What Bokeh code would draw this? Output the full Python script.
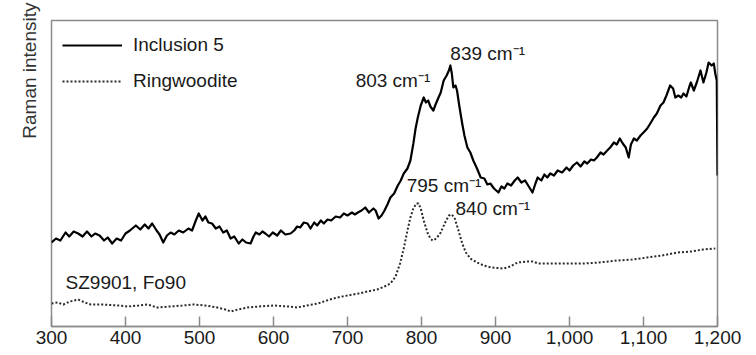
import numpy as np
from bokeh.plotting import figure
from bokeh.models import Label, Legend, LegendItem, NumeralTickFormatter, FixedTicker, Range1d, Title
from bokeh.embed import file_html
from bokeh.resources import INLINE

# Raman shift (cm^-1) and intensity (arbitrary units)
incl_wn = [300, 306, 312, 319, 324, 330, 336, 342, 348, 354, 359, 365, 371, 376, 382, 388, 394, 400,
           406, 414, 420, 426, 431, 436, 442, 446, 451, 456, 461, 466, 472, 478, 485, 490, 495, 499,
           504, 508, 512, 517, 522, 527, 532, 537, 542, 547, 553, 558, 563, 569, 573, 576, 581, 585,
           589, 594, 599, 605, 610, 616, 623, 628, 632, 636, 641, 646, 650, 655, 659, 664, 668, 673,
           678, 684, 690, 695, 700, 706, 710, 714, 719, 724, 729, 735, 738, 742, 746, 750, 754, 758,
           763, 768, 772, 776, 781, 785, 789, 792, 795, 799, 803, 806, 809, 812, 816, 819, 823, 826,
           830, 834, 837, 839, 841, 843, 846, 848, 851, 855, 858, 862, 866, 870, 875, 880, 885, 889,
           893, 898, 904, 908, 912, 916, 921, 926, 930, 935, 940, 945, 950, 954, 957, 962, 966, 970,
           974, 979, 984, 990, 996, 1000, 1005, 1010, 1015, 1020, 1024, 1029, 1033, 1037, 1042, 1046,
           1051, 1055, 1060, 1064, 1068, 1072, 1076, 1080, 1083, 1087, 1091, 1096, 1100, 1105, 1110,
           1114, 1118, 1123, 1127, 1131, 1136, 1140, 1143, 1147, 1151, 1154, 1158, 1162, 1164, 1168,
           1172, 1177, 1181, 1185, 1188, 1192, 1195, 1197, 1199, 1200]
incl_int = [84, 88, 86, 94, 90, 95, 93, 90, 95, 90, 93, 91, 86, 89, 83, 88, 86, 93,
            96, 101, 97, 102, 98, 103, 96, 92, 84, 91, 94, 92, 96, 94, 98, 96, 106, 113,
            106, 110, 104, 103, 98, 100, 94, 96, 88, 90, 83, 87, 84, 83, 90, 94, 92, 95,
            93, 90, 94, 91, 96, 92, 93, 96, 100, 99, 104, 103, 98, 104, 101, 106, 103, 107,
            106, 110, 109, 113, 111, 114, 112, 114, 116, 119, 114, 118, 116, 108, 111, 116, 122, 129,
            133, 141, 146, 153, 158, 166, 183, 198, 209, 221, 229, 224, 226, 220, 216, 222, 229, 234,
            246, 251, 256, 261, 253, 239, 241, 236, 221, 203, 191, 179, 174, 166, 158, 149, 148, 142,
            143, 138, 134, 140, 138, 143, 141, 146, 149, 144, 146, 140, 134, 143, 149, 146, 152, 149,
            153, 151, 156, 154, 159, 156, 161, 164, 160, 165, 163, 167, 166, 169, 174, 172,
            176, 179, 184, 182, 188, 183, 179, 169, 182, 188, 186, 191, 194, 198, 204,
            209, 213, 221, 224, 231, 241, 238, 229, 231, 229, 233, 230, 240, 244, 236,
            244, 256, 244, 254, 264, 261, 263, 253, 246, 151]

ring_wn = [300, 308, 316, 325, 336, 345, 353, 370, 390, 403, 418, 430, 443, 460, 477, 492, 508, 524,
           535, 542, 552, 565, 580, 600, 620, 632, 645, 660, 672, 686, 700, 715, 727, 740, 750, 758,
           765, 771, 776, 781, 785, 789, 793, 796, 799, 803, 808, 812, 815, 820, 826, 832, 837, 841,
           845, 850, 855, 860, 866, 875, 884, 895, 911, 920, 930, 943, 950, 958, 965, 990, 1019, 1040,
           1065, 1085, 1105, 1125, 1146, 1165, 1180, 1197]
ring_int = [23, 24, 22, 25, 27, 24, 22, 22, 21, 20, 21, 22, 19, 20, 21, 22, 21, 19,
            17, 15, 17, 19, 20, 21, 20, 19, 21, 23, 26, 29, 31, 33, 35, 37, 40, 43,
            50, 63, 78, 96, 109, 118, 123, 123, 118, 106, 94, 88, 86, 88, 94, 104, 111, 112,
            108, 96, 83, 74, 68, 64, 61, 59, 58, 60, 64, 65, 65, 63, 63, 63, 63, 64,
            66, 67, 69, 71, 74, 75, 77, 78]

series_names = ["Inclusion 5", "Ringwoodite"]
x_ticks = [300, 400, 500, 600, 700, 800, 900, 1000, 1100, 1200]
peak_labels = [("803 cm\u207b\u00b9", 711, 236), ("839 cm\u207b\u00b9", 839, 263),
               ("795 cm\u207b\u00b9", 780, 131), ("840 cm\u207b\u00b9", 846, 108)]
sample_label = ("SZ9901, Fo90", 319, 34)
y_label = "Raman intensity"

FONT = "Liberation Sans"
TXT = "#1a1a1a"

p = figure(width=756, height=355, output_backend="svg", toolbar_location=None,
           x_range=Range1d(300, 1200), y_range=Range1d(0, 306),
           min_border_left=51, min_border_right=39, min_border_top=20, min_border_bottom=29)
p.grid.visible = False
p.yaxis.visible = False
p.outline_line_color = "#8a8a8a"
p.outline_line_width = 1.5
p.background_fill_color = "white"
p.border_fill_color = "white"

ax = p.xaxis[0]
ax.ticker = FixedTicker(ticks=x_ticks)
ax.formatter = NumeralTickFormatter(format="0,0")
ax.major_tick_in = 10
ax.major_tick_out = 0
ax.minor_tick_line_color = None
ax.axis_line_color = "#8a8a8a"
ax.axis_line_width = 1.5
ax.major_tick_line_color = "#8a8a8a"
ax.major_tick_line_width = 1.5
ax.major_label_text_font = FONT
ax.major_label_text_font_size = "19px"
ax.major_label_text_color = TXT
ax.major_label_standoff = 4

r1 = p.line(incl_wn, incl_int, line_color="black", line_width=2.2, line_join="round")
r2 = p.line(ring_wn, ring_int, line_color="#2a2a2a", line_width=2, line_dash="2 2")

legend = Legend(items=[LegendItem(label=series_names[0], renderers=[r1]),
                       LegendItem(label=series_names[1], renderers=[r2])],
                location=(11, 234), margin=0, padding=0, spacing=14,
                glyph_width=60, glyph_height=20, label_height=20, label_standoff=11,
                label_text_font=FONT, label_text_font_size="19px", label_text_color=TXT,
                border_line_alpha=0, background_fill_alpha=0)
p.add_layout(legend)

for txt, xx, yy in peak_labels:
    p.add_layout(Label(x=xx, y=yy, text=txt, text_font=FONT, text_font_size="19px",
                       text_color=TXT, text_baseline="bottom", text_align="left"))
p.add_layout(Label(x=sample_label[1], y=sample_label[2], text=sample_label[0], text_font=FONT,
                   text_font_size="19px", text_color=TXT, text_baseline="bottom", text_align="left"))

p.add_layout(Title(text=y_label, align="right", offset=-18, standoff=24, text_font=FONT,
                   text_font_size="19px", text_font_style="normal", text_color="#333333"), "left")

open("out.html", "w").write(file_html(p, INLINE))
